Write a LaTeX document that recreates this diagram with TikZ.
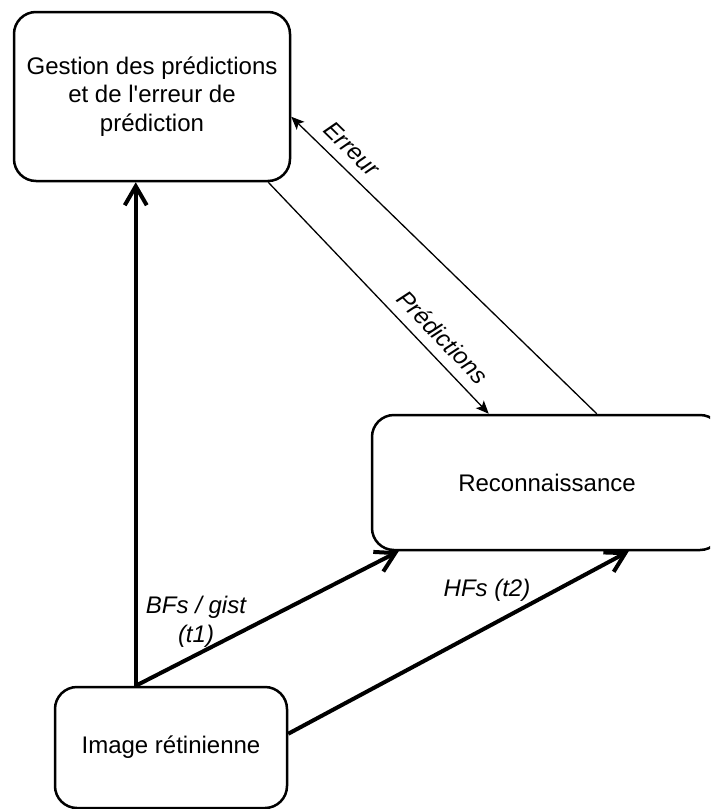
\documentclass[tikz,border=0pt]{standalone}
\usepackage{fontspec}
\newfontfamily\arialf{Liberation Sans}
\usetikzlibrary{arrows.meta}
\begin{document}
\begin{tikzpicture}[x=1pt,y=-1pt,
  box/.style={draw=black,line width=2.5pt,rounded corners=22pt,inner sep=0pt,
    align=center,font=\arialf\fontsize{24}{28.8}\selectfont},
  thick arrow/.style={line width=4pt,-{Straight Barb[length=19pt,width=22pt,line width=4pt]}},
  thin arrow/.style={line width=1.3pt,-{Stealth[length=13pt,width=11pt,inset=3pt]}},
  lbl/.style={font=\arialf\fontsize{24}{29}\selectfont\itshape,inner sep=0pt,align=center}]
\useasboundingbox (0,0) rectangle (710,809);
\clip (0,0) rectangle (710,809);
\fill[white] (0,0) rectangle (710,809);

\node[box,minimum width=276pt,minimum height=169pt] (G) at (152,96.5)
  {Gestion des prédictions\\et de l'erreur de\\prédiction};
\node[box,minimum width=350pt,minimum height=135pt] (R) at (547,482.5) {Reconnaissance};
\node[box,minimum width=232pt,minimum height=121pt] (I) at (171,747.5) {Image rétinienne};

\coordinate (Itop) at ([xshift=82pt]I.north west);
\coordinate (Iright) at ([yshift=-48pt]I.north east);
\coordinate (Gbot) at ([xshift=123pt]G.south west);
\coordinate (Gbr) at ([xshift=-23pt]G.south east);
\coordinate (Gright) at ([yshift=-106pt]G.north east);
\coordinate (Rb1) at ([xshift=28pt]R.south west);
\coordinate (Rb2) at ([xshift=258pt]R.south west);
\coordinate (Rt1) at ([xshift=118pt]R.north west);
\coordinate (Rt2) at ([xshift=226pt]R.north west);

\draw[thick arrow] (Itop) -- (Gbot);
\draw[thick arrow] (Itop) -- (Rb1);
\draw[thick arrow] (Iright) -- (Rb2);
\draw[thin arrow] (Gbr) -- (Rt1);
\draw[thin arrow] (Rt2) -- (Gright);

\node[lbl] (lbf) at (196,622) {BFs / gist\\(t1)};
\node[lbl] (lhf) at (487,590) {HFs (t2)};
\node[lbl,rotate=-44.3] (lerr) at (352,149) {Erreur};
\node[lbl,rotate=-45.9] (lpred) at (443,337) {Prédictions};
\end{tikzpicture}
\end{document}
